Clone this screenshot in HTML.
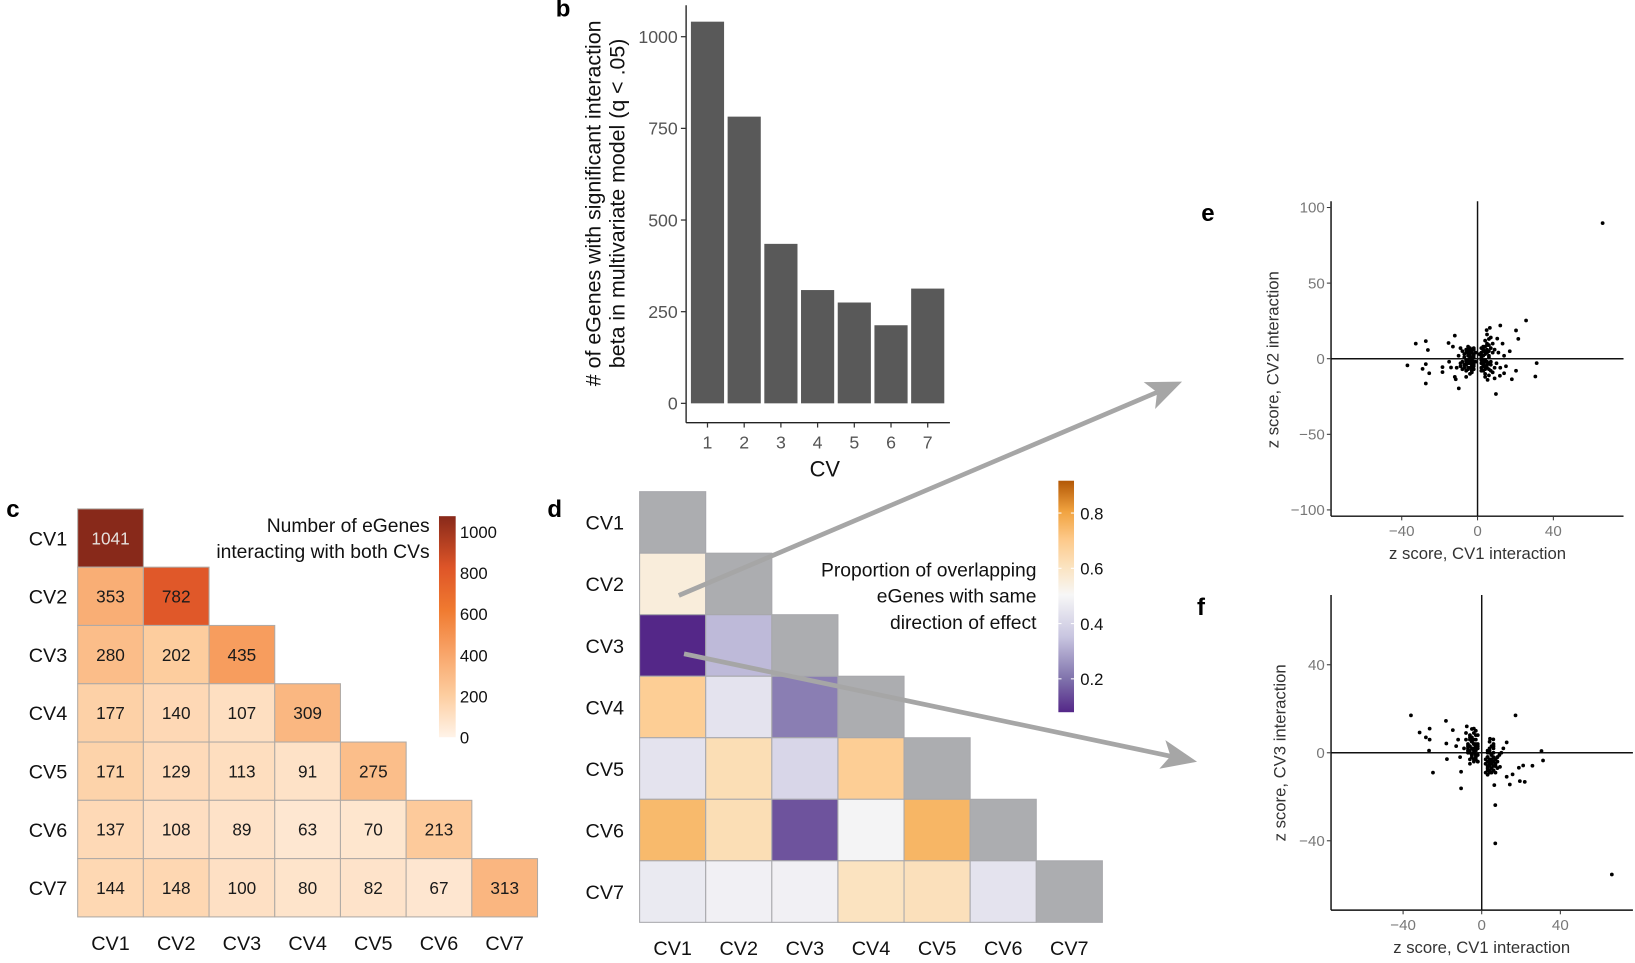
<!DOCTYPE html>
<html><head><meta charset="utf-8"><style>
html,body{margin:0;padding:0;background:#fff;}
svg{display:block;font-family:"Liberation Sans",Arial,sans-serif;}
</style></head><body>
<svg id="fig" width="1635" height="963" viewBox="0 0 1568 923.5" preserveAspectRatio="none" xmlns="http://www.w3.org/2000/svg">
<defs>
<linearGradient id="gradC" x1="0" y1="1" x2="0" y2="0">
<stop offset="0" stop-color="#fff3e8"/><stop offset="0.192" stop-color="#fdcd9f"/><stop offset="0.384" stop-color="#f8a468"/><stop offset="0.576" stop-color="#f07a30"/><stop offset="0.768" stop-color="#de5528"/><stop offset="1" stop-color="#88291a"/>
</linearGradient>
<linearGradient id="gradD" x1="0" y1="1" x2="0" y2="0">
<stop offset="0" stop-color="#542788"/><stop offset="0.145" stop-color="#8073ac"/><stop offset="0.325" stop-color="#c8c5e0"/><stop offset="0.506" stop-color="#f7f7f7"/><stop offset="0.627" stop-color="#fbe3c0"/><stop offset="0.747" stop-color="#fdc98a"/><stop offset="0.867" stop-color="#f1a340"/><stop offset="1" stop-color="#b35806"/>
</linearGradient>
</defs>
</svg>
<script>
const barCats = ["1","2","3","4","5","6","7"];
const barValues = [1041,782,435,309,275,213,313];
const barTicks = [0,250,500,750,1000];
const cvLabels = ["CV1","CV2","CV3","CV4","CV5","CV6","CV7"];
const countRows = [[1041],[353,782],[280,202,435],[177,140,107,309],[171,129,113,91,275],[137,108,89,63,70,213],[144,148,100,80,82,67,313]];
const countTicks = [0,200,400,600,800,1000];
const propRows = [[null],[0.55,null],[0.08,0.33,null],[0.68,0.44,0.22,null],[0.44,0.62,0.40,0.68,null],[0.74,0.62,0.15,0.49,0.75,null],[0.46,0.48,0.48,0.6,0.61,0.44,null]];
const propTicks = [0.2,0.4,0.6,0.8];
const eX = [66,-32.6,-27.3,-26.2,-37,-29,-27.3,-25.5,-27.3,-18.5,-18.5,-15.3,-12,-14,-9.9,-11.5,6.5,4.8,12,10.4,25.6,20.3,21.5,9.7,31.2,30.5,20.3,18.1,14,17,13.2,5.3,11.8,
 -3,-4,-5,-6,-2,-3,-5,-7,-8,-4,-2,-6,-4,-3,-5,-2,-7,-8,-6,-3,-9,-4,-2,-5,-10,-11,-12,-6,-1,-1,-9,-13,-15,
 3,4,5,6,2,3,5,7,8,4,6,9,11,3,4,5,6,2,7,8,4,3,10,12,6,9,2,1,14,15,7,5,-4,-6,4,6,-3,5,
 -2,-3,-4,-5,-3,-2,-4,-6,-5,-3,-2,-4,-5,-6,-3,-2,-4,-5,-7,-3,-6,-7,-8,-2,-9,-3,
 2,3,4,5,3,2,4,6,5,3,2,4,5,3,4,6,2,5,7,3,6,8,2,9,7,4];
const eY = [89.7,10,11.6,5.8,-4.4,-6.7,-3.6,-9.6,-16.4,-5.6,-8.9,10.4,15.3,-5.8,-19.6,-13.6,20.4,18.9,22,13.3,25.3,18.7,13.1,-23.3,-2.9,-11.8,-8,-13.6,-9.6,4.9,10,-14,-11.3,
 5,3,6,4,2,1,2,3,5,7,6,-2,-3,-5,-6,-4,-4,-7,-8,-9,-3,-10,-7,-1,2,-6,-12,-12,-2,4,7,8,-2,
 5,3,6,2,2,8,9,7,4,12,13,6,4,-3,-5,-2,-7,-6,-4,-9,-10,-8,-3,-6,-11,-13,-1,3,2,-5,14,16,0.5,-1,-1,1,-8,-4,
 3,4,5,4,6,7,2,6,8,-1,-2,-2,-3,-4,-4,-5,-6,-7,-6,-7,-1,1,-2,0.5,-5,-2.5,
 4,6,5,4,2,7,8,5,10,-1,-3,-2,-4,-5,-7,-3,-8,-6,-2,-4,9,10,1,-6,-8,-12];
const fX = [-36,-31.6,-28.4,-26.5,-26.5,-26.8,-24.8,-18.2,-18,-17.7,-14.7,-10.5,-10.5,-7.6,-5,17.2,12.7,30.4,31.2,25.8,21.1,18.9,19.4,21.9,14.3,12.7,6.4,6.9,6.9,66.2,4.2,5.9,9.3,15.7,
 -3,-4,-5,-6,-7,-3,-4,-5,-2,-6,-8,-3,-4,-5,-7,-2,-6,-3,-4,-8,-5,-2,-6,-7,-3,-9,-12,-13,-11,-4,
 3,4,5,6,7,3,4,5,8,6,2,3,5,7,4,6,8,9,3,5,2,4,6,7,5,3,8,10,11,4,6,2,
 -3,-4,-5,-6,-3,-4,-5,-2,-6,-3,-4,-5,-7,-2,-3,-4,-6,-5,-2,-3,-7,-4,-2,-6,
 3,4,5,6,4,3,5,7,3,4,6,5,7,3,4,6,8,5,3,4,6,2,7,5];
const fY = [17,9.2,7,11,6,1,-9,14.5,4.2,-2.9,10.3,-8.6,-16.2,12,10.8,17,4.7,0.8,-3.5,-5.9,-5.8,-6.8,-12.9,-13.2,-14.4,-10.9,-14.7,-23.8,-41.2,-55.3,6.4,6.1,-6.4,-9.8,
 2,4,6,1,3,-1,0,5,8,7,9,-3,-4,-2,0,3,-5,10,2,6,-1,-4,8,1,4,2,6,3,-2,11,
 -2,-4,-1,-6,-3,0,-8,-5,-2,2,-3,-7,-9,-6,1,3,-4,-1,-2,-3,-9,-6,-8,-5,-4,-10,-7,0,2,5,4,-5,
 3,4,2,3,6,1,5,2,0,-2,-3,7,4,4,8,6,6,-1,-1,1,2,9,-4,-3,
 -2,-3,-1,-4,-5,-6,-7,-3,1,2,0,-5,-6,-8,-9,-8,-2,-3,-4,0,-2,-5,-9,3];

const NS = "http://www.w3.org/2000/svg";
const svg = document.getElementById('fig');
function mk(tag, attrs, parent, txt){
  const e = document.createElementNS(NS, tag);
  for (const k in attrs) e.setAttribute(k, attrs[k]);
  if (txt !== undefined) e.textContent = txt;
  (parent || svg).appendChild(e);
  return e;
}
function lerpColor(stops, v){
  if (v <= stops[0][0]) return stops[0][1];
  for (let i=1;i<stops.length;i++){
    if (v <= stops[i][0]){
      const t=(v-stops[i-1][0])/(stops[i][0]-stops[i-1][0]);
      const a=stops[i-1][1], b=stops[i][1];
      const p=s=>[1,3,5].map(j=>parseInt(s.substr(j,2),16));
      const A=p(a),B=p(b);
      return 'rgb('+A.map((x,j)=>Math.round(x+(B[j]-x)*t)).join(',')+')';
    }
  }
  return stops[stops.length-1][1];
}
const stopsC=[[0,'#fff3e8'],[200,'#fdcd9f'],[400,'#f8a468'],[600,'#f07a30'],[800,'#de5528'],[1041,'#88291a']];
const stopsD=[[0.08,'#542788'],[0.2,'#8073ac'],[0.35,'#c8c5e0'],[0.5,'#f7f7f7'],[0.6,'#fbe3c0'],[0.7,'#fdc98a'],[0.8,'#f1a340'],[0.92,'#b35806']];

[["b",533,16],["c",6,496],["d",525,496],["e",1152,212],["f",1148,590]].forEach(p=>{
  const t=mk('text',{x:p[1],y:p[2],'font-size':23,'font-weight':'bold',fill:'#000'},svg,p[0]);
  
  
});

// ===== Panel b =====
const gB = mk('g',{});


const yB = v => 386.8 - v*0.3516;
const xB = i => 678.5 + i*35.2;
barValues.forEach((v,i)=>{
  const r=mk('rect',{x:xB(i)-15.9,y:yB(v),width:31.8,height:yB(0)-yB(v),fill:'#595959'},gB);
  
  
});
const bAxisY=mk('line',{x1:658,y1:5,x2:658,y2:405.4,stroke:'#222','stroke-width':1.3},gB);


const bAxisX=mk('line',{x1:658,y1:405.4,x2:911,y2:405.4,stroke:'#222','stroke-width':1.3},gB);


barTicks.forEach(t=>{
  mk('line',{x1:653,y1:yB(t),x2:658,y2:yB(t),stroke:'#333','stroke-width':1.2},gB);
  const l=mk('text',{x:650,y:yB(t)+6,'text-anchor':'end','font-size':17,fill:'#555'},gB,String(t));
  
  
});
barCats.forEach((c,i)=>{
  mk('line',{x1:xB(i),y1:405.4,x2:xB(i),y2:410,stroke:'#333','stroke-width':1.2},gB);
  const l=mk('text',{x:xB(i),y:430,'text-anchor':'middle','font-size':17,fill:'#555'},gB,c);
  
  
});
const bXT=mk('text',{x:791,y:457,'text-anchor':'middle','font-size':21,fill:'#111'},gB,'CV');


const bYT=mk('text',{transform:'translate(576,195) rotate(-90)','text-anchor':'middle','font-size':20.5,fill:'#111'},gB);


mk('tspan',{x:0,dy:0},bYT,'# of eGenes with significant interaction');
mk('tspan',{x:0,dy:23},bYT,'beta in multivariate model (q < .05)');

// ===== Panel c =====
const gC = mk('g',{});


const cx0=74.5, cy0=488, cw=63, ch=55.9;
countRows.forEach((row,r)=>{
  row.forEach((v,c)=>{
    const cell=mk('rect',{x:cx0+c*cw,y:cy0+r*ch,width:cw,height:ch,fill:lerpColor(stopsC,v),stroke:'#b0aaa5','stroke-width':1},gC);
    
    
    const t=mk('text',{x:cx0+c*cw+cw/2,y:cy0+r*ch+ch/2+6,'text-anchor':'middle','font-size':16.5,fill:v>900?'#e6e0dc':'#1a1a1a'},gC,String(v));
    
    
  });
});
cvLabels.forEach((l,i)=>{
  const a=mk('text',{x:46,y:cy0+i*ch+ch/2+7,'text-anchor':'middle','font-size':19,fill:'#111'},gC,l);
  
  
  const b=mk('text',{x:cx0+i*cw+cw/2,y:911,'text-anchor':'middle','font-size':19,fill:'#111'},gC,l);
  
  
});
const cbc=mk('rect',{x:421,y:495,width:16,height:212,fill:'url(#gradC)'},gC);


const yCb = v => 707 - v*0.197;
countTicks.forEach(t=>{
  const l=mk('text',{x:441,y:yCb(t)+6,'font-size':16,fill:'#111'},gC,String(t));
  
  
});
const lcT=mk('text',{'text-anchor':'end','font-size':18.5,fill:'#111'},gC);


mk('tspan',{x:412,y:510},lcT,'Number of eGenes');
mk('tspan',{x:412,y:535},lcT,'interacting with both CVs');

// ===== Panel d =====
const gD = mk('g',{});


const dx0=613.4, dy0=471.5, dw=63.4, dh=59;
propRows.forEach((row,r)=>{
  row.forEach((v,c)=>{
    const cell=mk('rect',{x:dx0+c*dw,y:dy0+r*dh,width:dw,height:dh,fill:v===null?'#acadb0':lerpColor(stopsD,v),stroke:'#a8a8ac','stroke-width':1},gD);
    
    
  });
});
cvLabels.forEach((l,i)=>{
  const a=mk('text',{x:580,y:dy0+i*dh+dh/2+7,'text-anchor':'middle','font-size':19,fill:'#111'},gD,l);
  
  
  const b=mk('text',{x:dx0+i*dw+dw/2,y:916,'text-anchor':'middle','font-size':19,fill:'#111'},gD,l);
  
  
});
const cbd=mk('rect',{x:1015,y:461,width:15,height:222,fill:'url(#gradD)'},gD);


const yDb = v => 651 - (v-0.2)*265;
propTicks.forEach(t=>{
  mk('line',{x1:1015,y1:yDb(t),x2:1018,y2:yDb(t),stroke:'#fff','stroke-width':1},gD);
  mk('line',{x1:1027,y1:yDb(t),x2:1030,y2:yDb(t),stroke:'#fff','stroke-width':1},gD);
  const l=mk('text',{x:1036,y:yDb(t)+6,'font-size':16,fill:'#111'},gD,t.toFixed(1));
  
  
});
const ldT=mk('text',{'text-anchor':'end','font-size':18.5,fill:'#111'},gD);


mk('tspan',{x:994,y:553},ldT,'Proportion of overlapping');
mk('tspan',{x:994,y:578},ldT,'eGenes with same');
mk('tspan',{x:994,y:603},ldT,'direction of effect');

// ===== Scatter helper =====
function scatter(name, xs, ys, xS, yS, ax, yTicks, xTicks, yTitle, ytx, yty, xTitleY, xTickY){
  const g=mk('g',{});
  
  
  mk('line',{x1:xS(0),y1:ax.top,x2:xS(0),y2:ax.bottom,stroke:'#111','stroke-width':1.4},g);
  mk('line',{x1:ax.left,y1:yS(0),x2:ax.right,y2:yS(0),stroke:'#111','stroke-width':1.4},g);
  const ya=mk('line',{x1:ax.left,y1:ax.top,x2:ax.left,y2:ax.bottom,stroke:'#111','stroke-width':1.4},g);
  
  
  const xa=mk('line',{x1:ax.left,y1:ax.bottom,x2:ax.right,y2:ax.bottom,stroke:'#111','stroke-width':1.4},g);
  
  
  yTicks.forEach(t=>{
    mk('line',{x1:ax.left-4,y1:yS(t),x2:ax.left,y2:yS(t),stroke:'#333'},g);
    const l=mk('text',{x:ax.left-6,y:yS(t)+5,'text-anchor':'end','font-size':14.5,fill:'#777'},g,t<0?'\u2212'+(-t):String(t));
    
    
  });
  xTicks.forEach(t=>{
    mk('line',{x1:xS(t),y1:ax.bottom,x2:xS(t),y2:ax.bottom+4,stroke:'#333'},g);
    const l=mk('text',{x:xS(t),y:xTickY,'text-anchor':'middle','font-size':14.5,fill:'#777'},g,t<0?'\u2212'+(-t):String(t));
    
    
  });
  xs.forEach((x,i)=>{
    const p=mk('circle',{cx:xS(x),cy:yS(ys[i]),r:1.8,fill:'#000'},g);
    
    
  });
  const xt=mk('text',{x:xS(0),y:xTitleY,'text-anchor':'middle','font-size':16,fill:'#333'},g,'z score, CV1 interaction');
  
  
  const yt=mk('text',{transform:'translate('+ytx+','+yty+') rotate(-90)','text-anchor':'middle','font-size':16,fill:'#333'},g,yTitle);
  
  
}
const xE=v=>1417+v*1.8175, yE=v=>344-v*1.45;
scatter('scatter-e',eX,eY,xE,yE,{left:1276.5,right:1557,top:193,bottom:495},[100,50,0,-50,-100],[-40,0,40],'z score, CV2 interaction',1226,345,536,514);
const xF=v=>1421+v*1.885, yF=v=>721.9-v*2.11;
scatter('scatter-f',fX,fY,xF,yF,{left:1276.5,right:1566,top:570.6,bottom:872.8},[40,0,-40],[-40,0,40],'z score, CV3 interaction',1233,722,914,892);

// ===== Arrows =====
function arrow(name,x1,y1,x2,y2){
  const g=mk('g',{});
  
  
  const dx=x2-x1, dy=y2-y1, L=Math.hypot(dx,dy), ux=dx/L, uy=dy/L, px=-uy, py=ux;
  const hl=34, hw=14, notch=8;
  mk('line',{x1:x1,y1:y1,x2:x2-ux*(hl-notch),y2:y2-uy*(hl-notch),stroke:'#a6a6a6','stroke-width':4.5},g);
  const bx=x2-ux*hl, by=y2-uy*hl, nx=x2-ux*(hl-notch), ny=y2-uy*(hl-notch);
  mk('polygon',{points:[x2,y2,bx+px*hw,by+py*hw,nx,ny,bx-px*hw,by-py*hw].join(','),fill:'#a6a6a6'},g);
}
arrow('arrow-to-e',651,571,1133.6,366);
arrow('arrow-to-f',656,627,1148,730.5);
</script>
</body></html>
